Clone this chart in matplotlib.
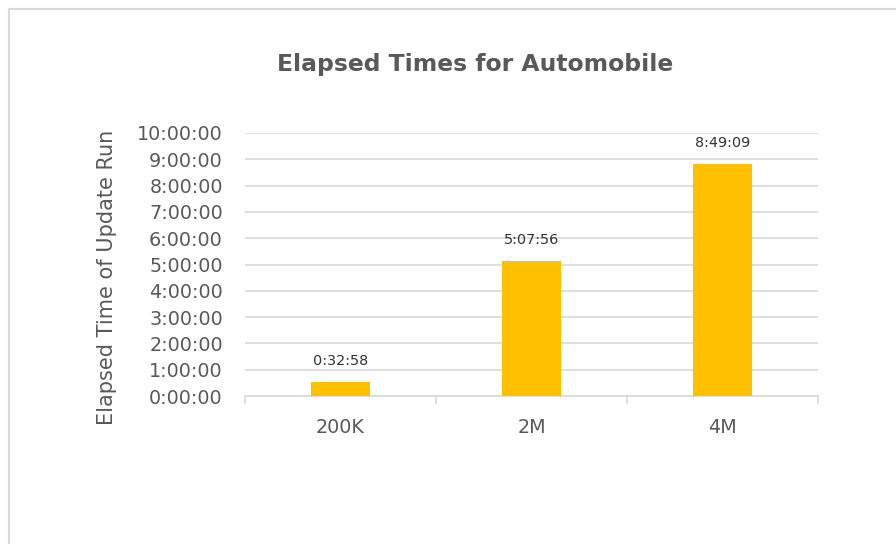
import matplotlib
matplotlib.use("Agg")
import matplotlib.pyplot as plt
from matplotlib.ticker import FuncFormatter, MultipleLocator
from matplotlib.patches import Rectangle

categories = ["200K", "2M", "4M"]
elapsed = ["0:32:58", "5:07:56", "8:49:09"]


def to_seconds(s):
    h, m, sec = [int(v) for v in s.split(":")]
    return h * 3600 + m * 60 + sec


def fmt_time(x, pos=None):
    x = int(round(x))
    return f"{x // 3600}:{(x % 3600) // 60:02d}:{x % 60:02d}"


values = [to_seconds(s) for s in elapsed]

plt.rcParams['font.family'] = ['DejaVu Sans']
text_gray = "#595959"
grid_gray = "#D9D9D9"

fig = plt.figure(figsize=(8.96, 5.44), dpi=100)
# chart frame (left and top edges visible)
fig.patches.append(Rectangle((9 / 896, -0.1), 1.2, 1 - 9 / 544 + 0.1,
                             transform=fig.transFigure, fill=False,
                             edgecolor="#D9D9D9", linewidth=1.5))

ax = fig.add_axes([245 / 896, 1 - 396 / 544, (818 - 245) / 896, (396 - 133) / 544])

x = list(range(len(categories)))
ax.bar(x, values, width=0.31, color="#FFC000", zorder=3)
for xi, v in zip(x, values):
    ax.annotate(fmt_time(v), (xi, v), xytext=(0, 10), textcoords="offset points",
                ha="center", va="bottom", fontsize=10.4, color="#333333")

ax.set_xlim(-0.5, 2.5)
ax.set_ylim(0, 36000)
ax.yaxis.set_major_locator(MultipleLocator(3600))
ax.yaxis.set_major_formatter(FuncFormatter(fmt_time))
ax.grid(axis="y", color=grid_gray, linewidth=1.2, zorder=0)
ax.set_xticks(x)
ax.set_xticklabels(categories)
ax.set_xticks([-0.5, 0.5, 1.5, 2.5], minor=True)
ax.tick_params(axis="x", which="major", length=0, pad=16, labelsize=13.8, labelcolor=text_gray)
ax.tick_params(axis="x", which="minor", length=6, color=grid_gray, width=1.2)
ax.tick_params(axis="y", length=0, pad=16, labelsize=13.8, labelcolor=text_gray)
for side in ["top", "right", "left"]:
    ax.spines[side].set_visible(False)
ax.spines["bottom"].set_color(grid_gray)
ax.spines["bottom"].set_linewidth(1.2)

fig.text(107 / 896, 1 - 277 / 544, "Elapsed Time of Update Run", rotation=90,
         ha="center", va="center", fontsize=15, color=text_gray)
fig.text(475 / 896, 1 - 65 / 544, "Elapsed Times for Automobile", ha="center", va="center",
         fontsize=16.9, fontweight="bold", color=text_gray)

fig.savefig("out.png", dpi=100)
